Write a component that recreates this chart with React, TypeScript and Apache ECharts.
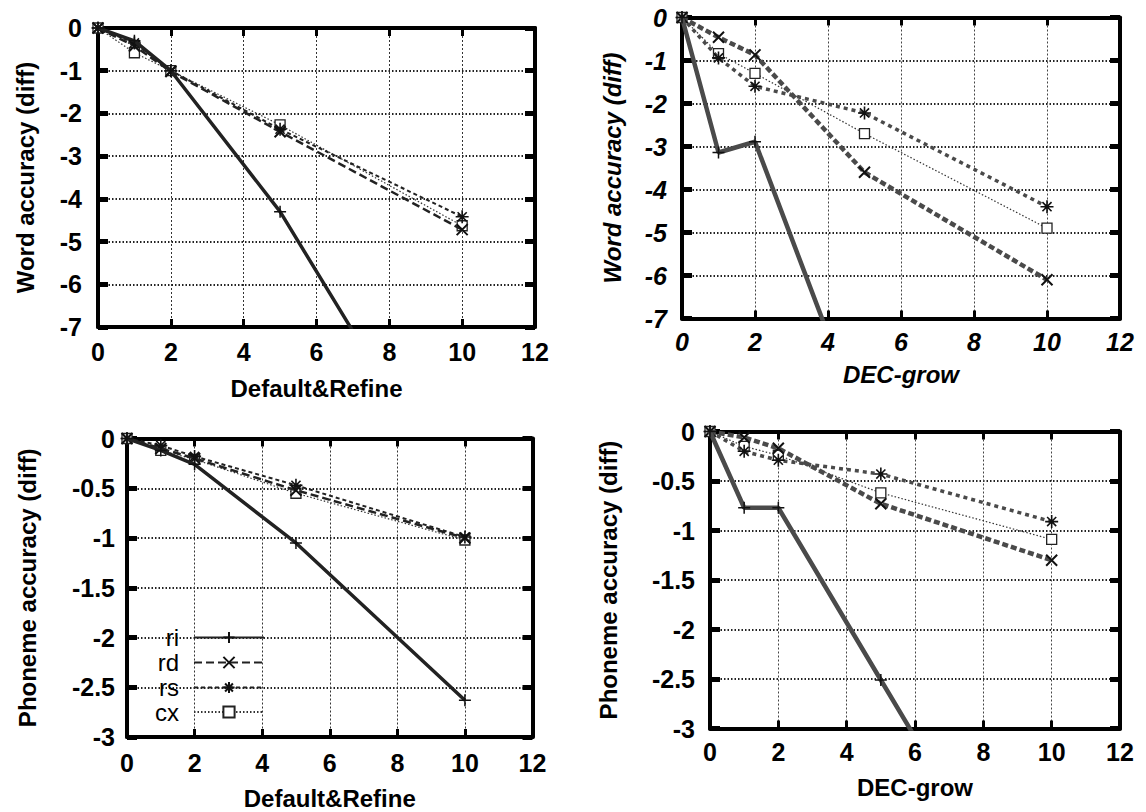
import React, { useEffect, useRef } from 'react';
import * as echarts from 'echarts';

// ---------- data ----------
const xValues = [0, 1, 2, 5, 10];
const seriesNames = ['ri', 'rd', 'rs', 'cx'];

// Panel 1: Word accuracy (diff) vs Default&Refine
const wordDefRi = [0, -0.3, -1.0, -4.3, -11.3];
const wordDefRd = [0, -0.42, -1.02, -2.43, -4.72];
const wordDefRs = [0, -0.35, -1.0, -2.37, -4.42];
const wordDefCx = [0, -0.58, -1.0, -2.27, -4.63];

// Panel 2: Word accuracy (diff) vs DEC-grow
const wordDecRi = [0, -3.14, -2.89, -9.6, -14.5];
const wordDecRd = [0, -0.46, -0.87, -3.6, -6.1];
const wordDecRs = [0, -0.94, -1.6, -2.22, -4.4];
const wordDecCx = [0, -0.84, -1.3, -2.7, -4.9];

// Panel 3: Phoneme accuracy (diff) vs Default&Refine
const phonDefRi = [0, -0.12, -0.26, -1.05, -2.63];
const phonDefRd = [0, -0.1, -0.2, -0.52, -1.0];
const phonDefRs = [0, -0.07, -0.18, -0.47, -0.99];
const phonDefCx = [0, -0.12, -0.21, -0.55, -1.02];

// Panel 4: Phoneme accuracy (diff) vs DEC-grow
const phonDecRi = [0, -0.77, -0.77, -2.51, -5.4];
const phonDecRd = [0, -0.06, -0.17, -0.73, -1.3];
const phonDecRs = [0, -0.2, -0.29, -0.43, -0.91];
const phonDecCx = [0, -0.15, -0.24, -0.62, -1.09];

const xMin = 0;
const xMax = 12;
const xStep = 2;

// ---------- layout / style ----------
const FONT = '"Liberation Sans", Arial, sans-serif';

const panels = [
  {
    data: [wordDefRi, wordDefRd, wordDefRs, wordDefCx],
    yTitle: 'Word accuracy (diff)', xTitle: 'Default&Refine',
    yMin: -7, yStep: 1,
    left: 98, top: 28, width: 437, height: 299,
    xLabelMargin: 12, yLabelMargin: 16, xNameGap: 49, yNameGap: 61,
    italic: false, heavy: false,
  },
  {
    data: [wordDecRi, wordDecRd, wordDecRs, wordDecCx],
    yTitle: 'Word accuracy (diff)', xTitle: 'DEC-grow',
    yMin: -7, yStep: 1,
    left: 682, top: 17.5, width: 438, height: 301,
    xLabelMargin: 11, yLabelMargin: 15, xNameGap: 44, yNameGap: 58,
    italic: true, heavy: true,
  },
  {
    data: [phonDefRi, phonDefRd, phonDefRs, phonDefCx],
    yTitle: 'Phoneme accuracy (diff)', xTitle: 'Default&Refine',
    yMin: -3, yStep: 0.5,
    left: 127, top: 438.5, width: 405.5, height: 298.5,
    xLabelMargin: 13, yLabelMargin: 12, xNameGap: 49, yNameGap: 88,
    italic: false, heavy: false,
  },
  {
    data: [phonDecRi, phonDecRd, phonDecRs, phonDecCx],
    yTitle: 'Phoneme accuracy (diff)', xTitle: 'DEC-grow',
    yMin: -3, yStep: 0.5,
    left: 710, top: 431.5, width: 410, height: 297,
    xLabelMargin: 11, yLabelMargin: 15, xNameGap: 47, yNameGap: 90,
    italic: false, heavy: true,
  },
];

// legend rows (panel 3): centre y of each row, right end of sample line
const legendRowY = [637.5, 662.5, 687.5, 712];
const legendRightEnd = 265;

const SYM_PLUS = 'path://M0 5L10 5M5 0L5 10';
const SYM_CROSS = 'path://M0 0L10 10M10 0L0 10';
const SYM_STAR = 'path://M0 5L10 5M5 0L5 10M1.5 1.5L8.5 8.5M8.5 1.5L1.5 8.5';

function seriesStyle(k: number, heavy: boolean) {
  const col = heavy ? '#4a4a4a' : '#222';
  if (k === 0) {
    return {
      symbol: SYM_PLUS, symbolSize: 12,
      lineStyle: { color: col, width: heavy ? 4.5 : 3.5, type: 'solid' },
      itemStyle: { color: '#111', borderColor: '#111', borderWidth: 1.5 },
    };
  }
  if (k === 1) {
    return {
      symbol: SYM_CROSS, symbolSize: 11,
      lineStyle: { color: col, width: heavy ? 4.5 : 2.5, type: heavy ? [6, 3] : [8, 4] },
      itemStyle: { color: '#111', borderColor: '#111', borderWidth: 2 },
    };
  }
  if (k === 2) {
    return {
      symbol: SYM_STAR, symbolSize: 13,
      lineStyle: { color: col, width: heavy ? 3.5 : 2, type: heavy ? [4, 4] : [4, 3] },
      itemStyle: { color: '#111', borderColor: '#111', borderWidth: 1.6 },
    };
  }
  return {
    symbol: 'rect', symbolSize: 10,
    lineStyle: { color: '#333', width: 1.2, type: [1.5, 2] },
    itemStyle: { color: '#fff', borderColor: '#222', borderWidth: 1.3 },
  };
}

function buildOption() {
  const grid: any[] = [];
  const xAxis: any[] = [];
  const yAxis: any[] = [];
  const series: any[] = [];

  panels.forEach((p, i) => {
    grid.push({ left: p.left, top: p.top, width: p.width, height: p.height, containLabel: false, show: false });
    const textBase = {
      fontFamily: FONT, fontSize: 24, fontWeight: 'bold', color: '#000',
      fontStyle: p.italic ? 'italic' : 'normal',
    };
    const tickText = { ...textBase, fontSize: 25 };
    const border = { show: true, onZero: false, lineStyle: { color: '#000', width: 4 } };
    xAxis.push({
      type: 'value', gridIndex: i, min: xMin, max: xMax, interval: xStep, position: 'bottom',
      name: p.xTitle, nameLocation: 'middle', nameGap: p.xNameGap, nameTextStyle: textBase,
      axisLine: border,
      axisTick: { show: true, inside: true, length: 8, lineStyle: { color: '#000', width: 3 } },
      axisLabel: { show: true, margin: p.xLabelMargin, ...tickText },
      splitLine: { show: true, lineStyle: { color: p.heavy ? '#444' : '#333', width: 1, type: [2, 2] } },
    });
    xAxis.push({
      type: 'value', gridIndex: i, min: xMin, max: xMax, interval: xStep, position: 'top',
      axisLine: border,
      axisTick: { show: true, inside: true, length: 8, lineStyle: { color: '#000', width: 3 } },
      axisLabel: { show: false },
      splitLine: { show: false },
    });
    yAxis.push({
      type: 'value', gridIndex: i, min: p.yMin, max: 0, interval: p.yStep, position: 'left',
      name: p.yTitle, nameLocation: 'middle', nameGap: p.yNameGap, nameTextStyle: textBase,
      axisLine: border,
      axisTick: { show: true, inside: true, length: 10, lineStyle: { color: '#000', width: 5 } },
      axisLabel: { show: true, margin: p.yLabelMargin, ...tickText },
      splitLine: { show: true, lineStyle: { color: '#222', width: 2, type: [1.5, 2] } },
    });
    yAxis.push({
      type: 'value', gridIndex: i, min: p.yMin, max: 0, interval: p.yStep, position: 'right',
      axisLine: border,
      axisTick: { show: true, inside: true, length: 10, lineStyle: { color: '#000', width: 5 } },
      axisLabel: { show: false },
      splitLine: { show: false },
    });

    seriesNames.forEach((name, k) => {
      const vals = p.data[k];
      series.push({
        type: 'line', name,
        xAxisIndex: 2 * i, yAxisIndex: 2 * i,
        data: xValues.map((x, j) => [x, vals[j]]),
        showSymbol: true, showAllSymbol: true, clip: true, silent: true,
        emphasis: { disabled: true },
        z: 3 + (3 - k),
        ...seriesStyle(k, p.heavy),
      });
    });
  });

  const legend = seriesNames.map((name, k) => ({
    show: true,
    data: [name],
    orient: 'vertical',
    right: 1146 - legendRightEnd,
    top: legendRowY[k] - 12,
    align: 'right',
    padding: 0,
    itemWidth: 70, itemHeight: 14,
    selectedMode: false,
    textStyle: { fontFamily: FONT, fontSize: 24, lineHeight: 24, color: '#000', padding: [0, 10, 0, 0] },
  }));

  return {
    animation: false,
    backgroundColor: '#fff',
    grid, xAxis, yAxis, series, legend,
    tooltip: { show: false },
  };
}

export default function App() {
  const ref = useRef<HTMLDivElement>(null);
  useEffect(() => {
    document.body.style.margin = '0';
    if (!ref.current) return;
    const chart = echarts.init(ref.current, undefined, { renderer: 'svg' });
    chart.setOption(buildOption() as any);
    return () => chart.dispose();
  }, []);
  return (
    <div style={{ position: 'fixed', left: 0, top: 0, width: 1146, height: 812, background: '#fff' }}>
      <div ref={ref} style={{ width: 1146, height: 812 }} />
    </div>
  );
}
